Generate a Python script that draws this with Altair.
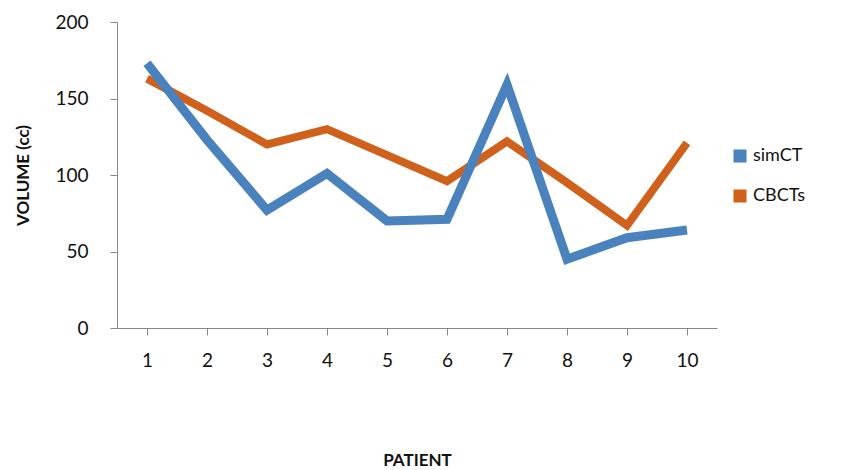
import altair as alt
import pandas as pd

patients = [1, 2, 3, 4, 5, 6, 7, 8, 9, 10]
sim_ct = [173, 123, 77, 101, 70, 71, 159, 45, 59, 64]
cbcts = [163, 142, 120, 130, 113, 96, 122, 95, 67, 121]
series = ["simCT", "CBCTs"]
colors = ["#4a82bd", "#cf611c"]

df = pd.DataFrame({
    "PATIENT": patients * 2,
    "VOLUME": sim_ct + cbcts,
    "series": ["simCT"] * 10 + ["CBCTs"] * 10,
})

font = "Lato"

x = alt.X("PATIENT:O", title="PATIENT",
          scale=alt.Scale(type="point", padding=0.5),
          axis=alt.Axis(labelAngle=0, labelFontSize=19, labelPadding=16,
                        titleFontSize=17, titleFontWeight="bold", titlePadding=82,
                        domainColor="#888888", tickColor="#888888", tickSize=7,
                        labelColor="#111111", titleColor="#111111", labelFont=font, titleFont=font))
y = alt.Y("VOLUME:Q", title="VOLUME (cc)",
          scale=alt.Scale(domain=[0, 200]),
          axis=alt.Axis(values=[0, 50, 100, 150, 200], grid=False, labelFontSize=19,
                        labelPadding=22, titleFontSize=17, titleFontWeight="bold", titlePadding=22,
                        domainColor="#888888", tickColor="#888888", tickSize=7,
                        labelColor="#111111", titleColor="#111111", labelFont=font, titleFont=font))
color_legend = alt.Color("series:N", title=None,
                         scale=alt.Scale(domain=series, range=colors),
                         legend=alt.Legend(orient="none", legendX=614, legendY=125,
                                           symbolType="square", symbolSize=170, symbolStrokeWidth=0,
                                           labelFontSize=18, labelFont=font, labelColor="#111111",
                                           rowPadding=22, symbolOpacity=1))
color_plain = alt.Color("series:N", scale=alt.Scale(domain=series, range=colors), legend=None)

base = alt.Chart(df)
orange = base.transform_filter(alt.datum.series == "CBCTs").mark_line(
    strokeWidth=8, strokeJoin="miter").encode(x=x, y=y, color=color_plain)
blue = base.transform_filter(alt.datum.series == "simCT").mark_line(
    strokeWidth=9, strokeJoin="miter").encode(x=x, y=y, color=color_plain)
legend_layer = base.mark_square(opacity=0, size=1).encode(x=x, y=y, color=color_legend)

chart = alt.layer(legend_layer, orange, blue).properties(
    width=600, height=306, background="white",
    padding={"top": 5, "left": 6, "right": 5, "bottom": 5}
).configure_view(stroke=None)

chart.save("out.html", embed_options={"renderer": "svg", "actions": False})
